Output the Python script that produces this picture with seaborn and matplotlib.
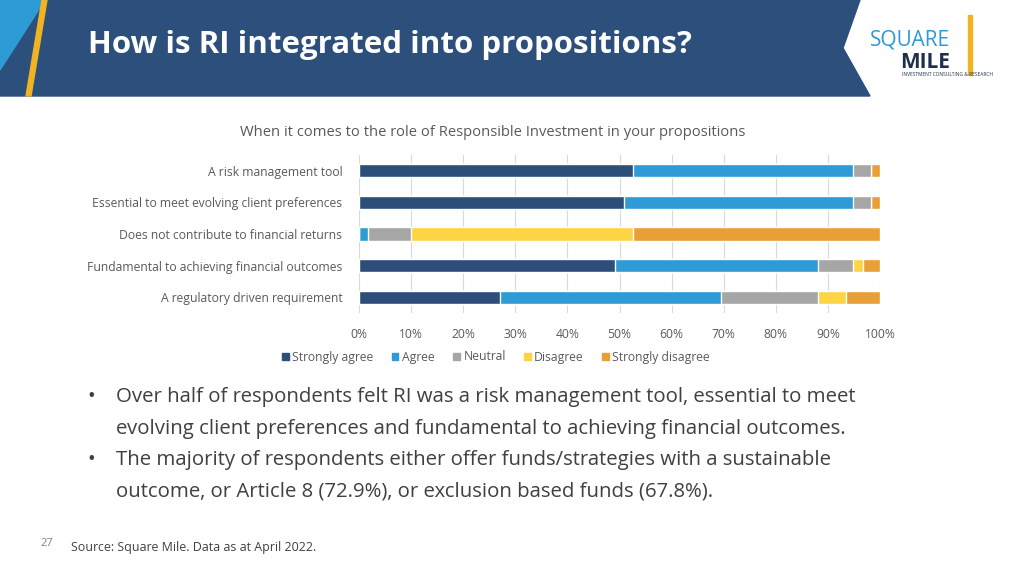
import matplotlib.pyplot as plt
import matplotlib.patches as mpatches
import numpy as np
import pandas as pd
import seaborn as sns

# Data (percent of respondents)
statements = [
    "A risk management tool",
    "Essential to meet evolving client preferences",
    "Does not contribute to financial returns",
    "Fundamental to achieving financial outcomes",
    "A regulatory driven requirement",
]
responses = ["Strongly agree", "Agree", "Neutral", "Disagree", "Strongly disagree"]
strongly_agree = [52.5, 50.9, 0.0, 49.2, 27.1]
agree = [42.4, 44.0, 1.7, 38.9, 42.4]
neutral = [3.4, 3.4, 8.3, 6.8, 18.6]
disagree = [0.0, 0.0, 42.6, 1.8, 5.3]
strongly_disagree = [1.7, 1.7, 47.4, 3.3, 6.6]
colors = ["#2e4e7a", "#2e9bd6", "#a6a6a6", "#fdd444", "#e89f36"]
x_ticks = [0, 10, 20, 30, 40, 50, 60, 70, 80, 90, 100]

plt.rcParams["font.family"] = "Open Sans"
sns.set_theme(style="white", font="Open Sans")

df = pd.DataFrame(
    {
        "statement": statements,
        "Strongly agree": strongly_agree,
        "Agree": agree,
        "Neutral": neutral,
        "Disagree": disagree,
        "Strongly disagree": strongly_disagree,
    }
)
cum = df[responses].cumsum(axis=1)
cum["statement"] = df["statement"]

fig = plt.figure(figsize=(10.24, 5.76), dpi=100)
fig.patch.set_facecolor("white")

# Header band
hdr = fig.add_axes([0, 0, 1, 1], zorder=0)
hdr.set_xlim(0, 1024)
hdr.set_ylim(576, 0)
hdr.axis("off")
hdr.add_patch(mpatches.Polygon([(0, 0), (860, 0), (843, 48), (870, 96), (0, 96)],
                               color="#2c4f7c"))
hdr.add_patch(mpatches.Polygon([(0, 0), (45, 0), (0, 70)], color="#2f9bd6"))
hdr.add_patch(mpatches.Polygon([(42, 0), (47, 0), (31, 96), (26, 96)], color="#f0b323"))
hdr.text(88, 45, "How is RI integrated into propositions?", color="white",
         fontsize=22.5, fontweight="bold", va="center")
hdr.text(870, 40, "SQUARE", color="#2f9bd6", fontsize=15, va="center")
hdr.text(900, 62, "MILE", color="#1d2f4d", fontsize=15, fontweight="bold", va="center")
hdr.text(902, 75, "INVESTMENT CONSULTING & RESEARCH", color="#1d2f4d", fontsize=3.5,
         va="center")
hdr.add_patch(mpatches.Rectangle((968, 15), 4, 60, color="#f0b323"))
hdr.text(493, 133, "When it comes to the role of Responsible Investment in your propositions",
         color="#595959", fontsize=10.6, ha="center", va="center")
bullets = [
    (397, "Over half of respondents felt RI was a risk management tool, essential to meet"),
    (429, "evolving client preferences and fundamental to achieving financial outcomes."),
    (460, "The majority of respondents either offer funds/strategies with a sustainable"),
    (491, "outcome, or Article 8 (72.9%), or exclusion based funds (67.8%)."),
]
for i, (y, t) in enumerate(bullets):
    hdr.text(116, y, t, color="#404040", fontsize=14.7, va="center")
    if i in (0, 2):
        hdr.text(87, y, "•", color="#404040", fontsize=14.7, va="center")
hdr.text(40, 544, "27", color="#7f7f7f", fontsize=8, va="center")
hdr.text(71, 547, "Source: Square Mile. Data as at April 2022.", color="#404040",
         fontsize=8.9, va="center")

# Stacked bar chart: overlay cumulative totals, largest first
ax = fig.add_axes([359 / 1024, 1 - 313 / 576, 521 / 1024, 158 / 576], zorder=1)
ax.patch.set_alpha(0)
for resp, col in reversed(list(zip(responses, colors))):
    sns.barplot(data=cum, x=resp, y="statement", color=col, orient="h",
                width=0.42, ax=ax, saturation=1, order=statements)
ax.set_xlim(0, 100)
ax.set_xticks(x_ticks)
ax.set_xticklabels([f"{t}%" for t in x_ticks], color="#595959", fontsize=8.75)
ax.tick_params(axis="y", labelsize=8.75, labelcolor="#595959", length=0, pad=12)
ax.tick_params(axis="x", length=0, pad=11)
ax.set_xlabel("")
ax.set_ylabel("")
ax.grid(axis="x", color="#d9d9d9", linewidth=0.8)
ax.set_axisbelow(True)
for s in ax.spines.values():
    s.set_visible(False)

handles = [mpatches.Patch(color=c, label=r) for r, c in zip(responses, colors)]
leg = fig.legend(handles=handles, loc="center", bbox_to_anchor=(496 / 1024, 1 - 357 / 576),
                 ncol=5, frameon=False, fontsize=8.75, handlelength=0.55, handleheight=0.55,
                 handletextpad=0.3, columnspacing=1.5)
for t in leg.get_texts():
    t.set_color("#595959")

fig.savefig("out.png", dpi=100, facecolor="white")
